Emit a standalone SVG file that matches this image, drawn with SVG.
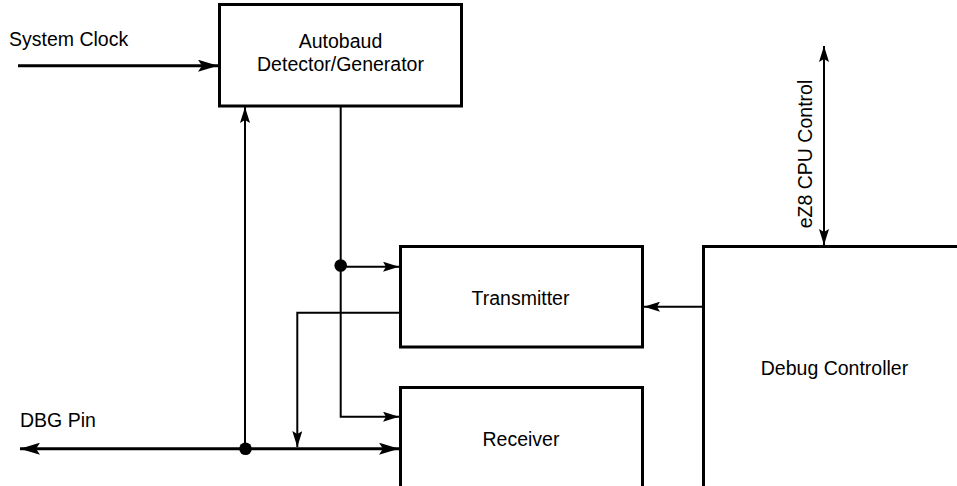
<svg xmlns="http://www.w3.org/2000/svg" width="957" height="486" viewBox="0 0 957 486">
<style>
.box{fill:#fff;stroke:#000;stroke-width:3}
.ln{fill:none;stroke:#000;stroke-width:2}
.lnb{fill:none;stroke:#000;stroke-width:3}
text{font-family:"Liberation Sans",Arial,sans-serif;font-size:19.5px;fill:#000}
.c{text-anchor:middle}
</style>
<defs>
<marker id="ah" viewBox="0 0 16 10" refX="16" refY="5" markerWidth="16" markerHeight="10" markerUnits="userSpaceOnUse" orient="auto-start-reverse">
<path d="M0,0 L16,5 L0,10 L3,5 Z" fill="#000"/>
</marker>
<marker id="ahb" viewBox="0 0 20 12" refX="20" refY="6" markerWidth="20" markerHeight="12" markerUnits="userSpaceOnUse" orient="auto-start-reverse">
<path d="M0,0 L20,6 L0,12 L4,6 Z" fill="#000"/>
</marker>
</defs>
<rect width="957" height="486" fill="#fff"/>
<g id="autobaud">
<rect class="box" x="219.5" y="4.5" width="242" height="101.5"/>
<text class="c" x="340.5" y="48">Autobaud</text>
<text class="c" x="340.5" y="70.5">Detector/Generator</text>
</g>
<g id="transmitter">
<rect class="box" x="400.5" y="246.5" width="242" height="100.5"/>
<text class="c" x="520.5" y="305">Transmitter</text>
</g>
<g id="receiver">
<path class="box" d="M400.5,490 V387.5 H642.5 V490"/>
<text class="c" x="521" y="446">Receiver</text>
</g>
<g id="debug">
<path class="box" d="M703.5,490 V246.5 H960"/>
<text class="c" x="834.5" y="375">Debug Controller</text>
</g>
<g id="labels">
<text x="9" y="46">System Clock</text>
<text x="20" y="427">DBG Pin</text>
<text class="c" transform="translate(811.5,154) rotate(-90)">eZ8 CPU Control</text>
</g>
<g id="connectors">
<path class="lnb" d="M18,65.7 H218" marker-end="url(#ahb)"/>
<path class="lnb" d="M245,448.7 H20" marker-end="url(#ahb)"/>
<path class="lnb" d="M245,448.7 H399" marker-end="url(#ahb)"/>
<path class="ln" d="M245,448.7 V107" marker-end="url(#ah)"/>
<path class="ln" d="M340.7,107 V416.7 H399" marker-end="url(#ah)"/>
<path class="ln" d="M340.7,266.7 H399" marker-end="url(#ah)"/>
<path class="ln" d="M399,312.7 H297.3 V447" marker-end="url(#ah)"/>
<path class="ln" d="M702,306.7 H644" marker-end="url(#ah)"/>
<path class="ln" d="M824,46 V245" stroke-width="2.5" marker-start="url(#ah)" marker-end="url(#ah)"/>
<circle cx="340.7" cy="265.5" r="6.3"/>
<circle cx="245.5" cy="448.7" r="6.3"/>
</g>
</svg>
